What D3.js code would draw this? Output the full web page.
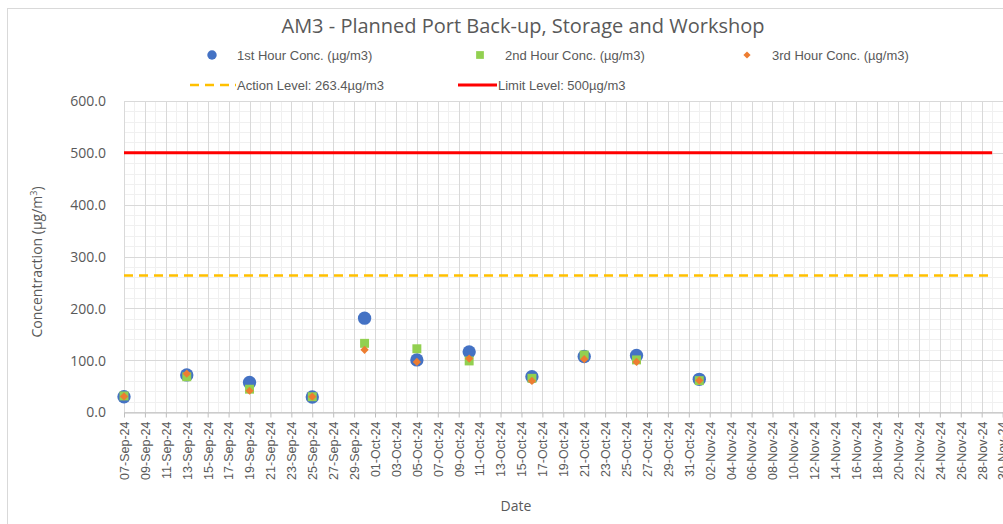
<!DOCTYPE html>
<html>
<head>
<meta charset="utf-8">
<script src="https://d3js.org/d3.v7.min.js"></script>
<style>
html, body { margin:0; padding:0; background:#fff; overflow:hidden; }
svg text { font-family: "Liberation Sans", Arial, sans-serif; fill:#595959; }
</style>
</head>
<body>
<div id="chart"></div>
<script>
// 측정 데이터
var sampleDates = ["07-Sep-24","13-Sep-24","19-Sep-24","25-Sep-24","30-Sep-24","05-Oct-24","10-Oct-24","16-Oct-24","21-Oct-24","26-Oct-24","01-Nov-24"];
var hour1 = [29.5, 71.5, 57, 29, 181, 100.5, 116, 68, 107, 109, 63];
var hour2 = [31, 68, 44, 29.5, 132.5, 122, 98.5, 65, 110, 100.5, 60.5];
var hour3 = [30, 74, 41, 29.5, 120, 96.5, 103, 60, 102, 96.5, 61];
var actionLevel = 263.4;
var limitLevel = 500;
var levelDates = ["07-Sep-24", "29-Nov-24"];
var axisDates = ["07-Sep-24", "30-Nov-24"];
var yTicks = [0, 100, 200, 300, 400, 500, 600];

var parse = d3.utcParse("%d-%b-%y"),
	fmt = d3.utcFormat("%d-%b-%y");

var W = 1003, H = 524;
var plot = {left:124, top:101, right:1002.6, bottom:412};

var svg = d3.select("#chart").append("svg")
	.attr("width", W)
	.attr("height", H);

// 차트 테두리
svg.append("rect")
	.attr("x", 7.5).attr("y", 8.5)
	.attr("width", 1200).attr("height", 700)
	.style("fill", "#fff")
	.style("stroke", "#d9d9d9");

var x = d3.scaleUtc()
	.domain(axisDates.map(parse))
	.range([plot.left, plot.right]);
var y = d3.scaleLinear()
	.domain([0, 600])
	.range([plot.bottom, plot.top]);

var allDays = d3.utcDay.range(parse(axisDates[0]), d3.utcDay.offset(parse(axisDates[1]), 1));
var majorDays = allDays.filter(function(d, i){ return i % 2 == 0; });
var minorY = d3.range(0, 601, 20);

// 보조 격자
var grid = svg.append("g").attr("class", "grid");
grid.selectAll(".vMinor").data(allDays).enter().append("line")
	.attr("x1", function(d){ return Math.round(x(d)) + 0.5; })
	.attr("x2", function(d){ return Math.round(x(d)) + 0.5; })
	.attr("y1", plot.top).attr("y2", plot.bottom)
	.style("stroke", "#f0f0f0");
grid.selectAll(".hMinor").data(minorY).enter().append("line")
	.attr("x1", plot.left).attr("x2", plot.right + 20)
	.attr("y1", function(d){ return Math.round(y(d)) + 0.5; })
	.attr("y2", function(d){ return Math.round(y(d)) + 0.5; })
	.style("stroke", "#f0f0f0");
// 주 격자
grid.selectAll(".vMajor").data(majorDays).enter().append("line")
	.attr("x1", function(d){ return Math.round(x(d)) + 0.5; })
	.attr("x2", function(d){ return Math.round(x(d)) + 0.5; })
	.attr("y1", plot.top).attr("y2", plot.bottom)
	.style("stroke", "#d9d9d9");
grid.selectAll(".hMajor").data(yTicks).enter().append("line")
	.attr("x1", plot.left).attr("x2", plot.right + 20)
	.attr("y1", function(d){ return Math.round(y(d)) + 0.5; })
	.attr("y2", function(d){ return Math.round(y(d)) + 0.5; })
	.style("stroke", "#d9d9d9");

// y축
var yAxis = svg.append("g")
	.attr("transform", "translate(" + plot.left + ",0)")
	.call(d3.axisLeft(y).tickValues(yTicks).tickSize(0).tickPadding(18).tickFormat(d3.format(".1f")));
yAxis.select(".domain").remove();
yAxis.selectAll("text").style("font-size", "14px").style("font-family", "'Open Sans', sans-serif").attr("dy", "0.35em");

// x축
var xAxis = svg.append("g")
	.attr("transform", "translate(0," + (Math.round(y(0)) + 0.5) + ")")
	.call(d3.axisBottom(x).tickValues(majorDays).tickSize(5).tickSizeOuter(0).tickFormat(fmt));
xAxis.select(".domain").style("stroke", "#bfbfbf");
xAxis.selectAll(".tick line").style("stroke", "#bfbfbf");
xAxis.selectAll("text")
	.style("font-size", "12.5px")
	.attr("transform", "rotate(-90)")
	.attr("x", -9).attr("y", 0).attr("dy", "0.35em")
	.attr("text-anchor", "end");

// 기준선
var line = d3.line()
	.x(function(d){ return x(d[0]); })
	.y(function(d){ return y(d[1]); });
svg.append("path")
	.attr("d", line(levelDates.map(function(d){ return [parse(d), actionLevel]; })))
	.style("fill", "none").style("stroke", "#ffc000")
	.style("stroke-width", 2.5).style("stroke-dasharray", "9,6");
svg.append("path")
	.attr("d", line(levelDates.map(function(d){ return [parse(d), limitLevel]; })))
	.style("fill", "none").style("stroke", "#ff0000")
	.style("stroke-width", 3);

// 측정점
var pts = function(vals){
	return sampleDates.map(function(d, i){ return {date: parse(d), value: vals[i]}; });
};
var sym = function(type, size){ return d3.symbol().type(type).size(size)(); };

svg.append("g").selectAll("path").data(pts(hour1)).enter().append("path")
	.attr("transform", function(d){ return "translate(" + x(d.date) + "," + y(d.value) + ")"; })
	.attr("d", sym(d3.symbolCircle, 140))
	.style("fill", "#4472c4");
svg.append("g").selectAll("path").data(pts(hour2)).enter().append("path")
	.attr("transform", function(d){ return "translate(" + x(d.date) + "," + y(d.value) + ")"; })
	.attr("d", sym(d3.symbolSquare, 80))
	.style("fill", "#92d050");
svg.append("g").selectAll("path").data(pts(hour3)).enter().append("path")
	.attr("transform", function(d){ return "translate(" + x(d.date) + "," + y(d.value) + ") rotate(45)"; })
	.attr("d", sym(d3.symbolSquare, 34))
	.style("fill", "#ed7d31");

// 제목
svg.append("text")
	.attr("x", 523).attr("y", 33)
	.attr("text-anchor", "middle")
	.style("font-size", "20px")
	.style("font-family", "'Open Sans', sans-serif")
	.text("AM3 - Planned Port Back-up, Storage and Workshop");

// 범례
var legend = svg.append("g").style("font-size", "13px");
var leg1 = [
	{x:212, label:"1st Hour Conc. (µg/m3)", color:"#4472c4", shape:"circle"},
	{x:480, label:"2nd Hour Conc. (µg/m3)", color:"#92d050", shape:"square"},
	{x:747, label:"3rd Hour Conc. (µg/m3)", color:"#ed7d31", shape:"diamond"}
];
leg1.forEach(function(d){
	var g = legend.append("g").attr("transform", "translate(" + d.x + ",55)");
	if(d.shape == "circle") g.append("path").attr("d", sym(d3.symbolCircle, 70)).style("fill", d.color);
	if(d.shape == "square") g.append("path").attr("d", sym(d3.symbolSquare, 60)).style("fill", d.color);
	if(d.shape == "diamond") g.append("path").attr("d", sym(d3.symbolSquare, 26)).attr("transform", "rotate(45)").style("fill", d.color);
	g.append("text").attr("x", 25).attr("dy", "0.35em").text(d.label);
});
var l2 = legend.append("g").attr("transform", "translate(0,85)");
l2.append("line").attr("x1", 190).attr("x2", 236).attr("y1", 0).attr("y2", 0)
	.style("stroke", "#ffc000").style("stroke-width", 2.5).style("stroke-dasharray", "9,6");
l2.append("text").attr("x", 237).attr("dy", "0.35em").text("Action Level: 263.4µg/m3");
l2.append("line").attr("x1", 458).attr("x2", 497).attr("y1", 0).attr("y2", 0)
	.style("stroke", "#ff0000").style("stroke-width", 3);
l2.append("text").attr("x", 498).attr("dy", "0.35em").text("Limit Level: 500µg/m3");

// 축 제목
svg.append("text")
	.attr("transform", "translate(42,262) rotate(-90)")
	.attr("text-anchor", "middle")
	.style("font-size", "14px")
	.style("font-family", "'Open Sans', sans-serif")
	.html("Concentraction (µg/m<tspan dy='-5' font-size='9px'>3</tspan><tspan dy='5'>)</tspan>");
svg.append("text")
	.attr("x", 516).attr("y", 511)
	.attr("text-anchor", "middle")
	.style("font-size", "14px")
	.style("font-family", "'Open Sans', sans-serif")
	.text("Date");
</script>
</body>
</html>
